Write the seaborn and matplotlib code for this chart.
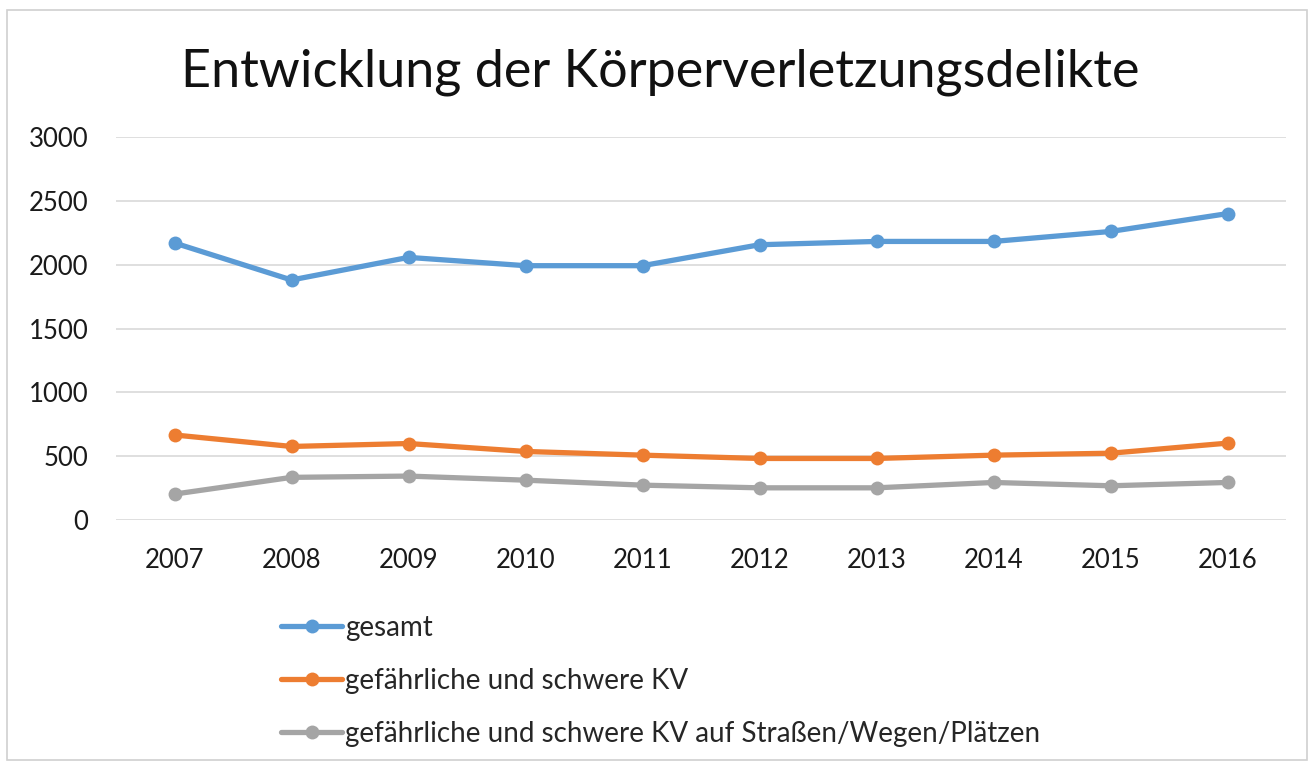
import pandas as pd
import matplotlib.pyplot as plt
import seaborn as sns
from matplotlib.patches import Rectangle

# Data
years = ['2007', '2008', '2009', '2010', '2011', '2012', '2013', '2014', '2015', '2016']
gesamt = [2170, 1880, 2057, 1992, 1992, 2156, 2182, 2182, 2260, 2400]
schwer = [666, 576, 599, 537, 508, 482, 482, 508, 523, 602]
strasse = [203, 334, 344, 312, 273, 252, 252, 294, 268, 294]
series_names = ['gesamt',
                'gefährliche und schwere KV',
                'gefährliche und schwere KV auf Straßen/Wegen/Plätzen']
colors = ['#5B9BD5', '#ED7D31', '#A5A5A5']

df = pd.DataFrame({
    'Jahr': years * 3,
    'Anzahl': gesamt + schwer + strasse,
    'Serie': [series_names[0]] * 10 + [series_names[1]] * 10 + [series_names[2]] * 10,
})

sns.set_style('white')
plt.rcParams['font.family'] = ['Lato', 'DejaVu Sans']

fig = plt.figure(figsize=(13.14, 7.62), dpi=100)
ax = fig.add_axes([116 / 1314, 1 - 520 / 762, 1170 / 1314, 383 / 762])

sns.lineplot(data=df, x='Jahr', y='Anzahl', hue='Serie', palette=colors,
             marker='o', markersize=10, markeredgewidth=0, linewidth=3.8,
             sort=False, ax=ax, legend=True)

ax.set_xlim(-0.5, 9.5)
ax.set_ylim(0, 3000)
ax.set_yticks(range(0, 3001, 500))
ax.yaxis.grid(True, color='#D9D9D9', linewidth=1.2)
ax.set_axisbelow(True)
for s in ax.spines.values():
    s.set_visible(False)
ax.tick_params(axis='both', length=0, labelsize=18.5, colors='#1a1a1a')
ax.tick_params(axis='y', pad=20)
ax.tick_params(axis='x', pad=20)
ax.set_xlabel('')
ax.set_ylabel('')

handles, labels = ax.get_legend_handles_labels()
ax.get_legend().remove()
fig.legend(handles, labels, loc='upper left', bbox_to_anchor=(270 / 1314, 1 - 604 / 762),
           frameon=False, fontsize=20, labelspacing=0.97, handlelength=2.2,
           handletextpad=0.1, borderaxespad=0)

fig.text(660 / 1314, 1 - 72 / 762, 'Entwicklung der Körperverletzungsdelikte',
         ha='center', va='center', fontsize=37.5, color='#111111')

fig.patches.append(Rectangle((7 / 1314, 0.002), 1 - 14 / 1314, 0.996 - 8 / 762,
                             transform=fig.transFigure, fill=False,
                             edgecolor='#D0D0D0', linewidth=1.2))

fig.savefig('out.png', dpi=100)
plt.close(fig)
